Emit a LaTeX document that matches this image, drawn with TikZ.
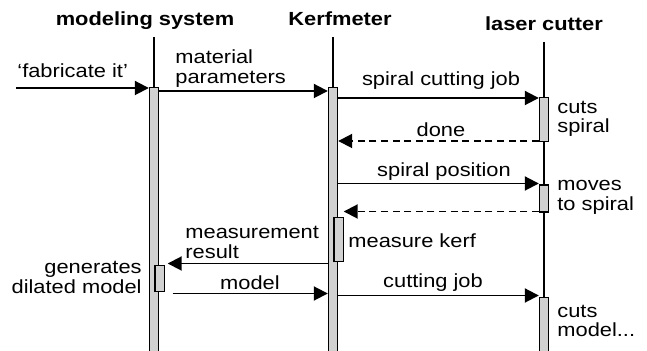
\documentclass[tikz,border=0pt]{standalone}
\usepackage{fontspec}
\setmainfont[FakeStretch=1.15]{Liberation Sans}
\usetikzlibrary{arrows.meta}

\begin{document}
\begin{tikzpicture}[x=0.5pt,y=-0.5pt,
  every node/.style={inner sep=0pt,font=\fontsize{9.5}{9.9}\selectfont},
  head/.style={font=\fontsize{9.5}{9.9}\selectfont\bfseries,anchor=base},
  life/.style={line width=0.8pt},
  bar/.style={draw,fill=black!18,line width=0.6pt,minimum width=4.6pt,anchor=north},
  msg/.style={-{Triangle[length=7pt,width=7pt]},line width=0.95pt},
  ret/.style={msg,dash pattern=on 3.5pt off 2.3pt},
  lbl/.style={anchor=base},
  note/.style={align=left,anchor=base west}]
\useasboundingbox (0,0) rectangle (647,351);
\clip (0,0) rectangle (647,351);

% lifelines
\node[head] (msh) at (145,26) {modeling system};
\node[head] (kfh) at (340,26) {Kerfmeter};
\node[head] (lch) at (544,30.5) {laser cutter};
\draw[life] (154,37) -- (154,360);
\draw[life] (333,37) -- (333,360);
\draw[life] (544,42) -- (544,360);

% activations
\node[bar,minimum height=140pt] (ms1) at (154,87) {};
\node[bar,minimum height=13pt] (ms2) at (159.5,265) {};
\node[bar,minimum height=140pt] (kf1) at (333,87) {};
\node[bar,minimum height=22pt] (kf2) at (338.5,217) {};
\node[bar,minimum height=22pt] (lc1) at (544,97) {};
\node[bar,minimum height=13.5pt] (lc2) at (544,184.5) {};
\node[bar,minimum height=40pt] (lc3) at (544,297) {};

% messages
\coordinate (user) at (16,88);
\draw[msg] (user) -- (ms1.west |- user);
\node[note] (fab) at (17,78) {‘fabricate it’};

\draw[msg] (ms1.east |- 0,91) -- (kf1.west |- 0,91);
\node[note] (matp) at (175,83.5) {material\\parameters};

\draw[msg] (kf1.east |- 0,98) -- (lc1.west |- 0,98);
\node[lbl] (scj) at (441,86) {spiral cutting job};
\draw[ret] (lc1.west |- 0,141) -- (kf1.east |- 0,141);
\node[lbl] (done) at (441,137) {done};
\node[note] (cuts) at (557,133) {cuts\\spiral};

\draw[msg] (kf1.east |- 0,183.5) -- (lc2.west |- 0,183.5);
\node[lbl] (spos) at (444,177) {spiral position};
\draw[ret] (lc2.west |- 0,211.5) -- (kf2.east |- 0,211.5);
\node[note] (moves) at (557,210.5) {moves\\to spiral};

\node[note] (mkerf) at (348,248) {measure kerf};
\draw[msg,shorten >=1.5pt] (kf1.west |- 0,263.5) -- (ms2.east |- 0,263.5);
\node[note] (mres) at (185,258.5) {measurement\\result};
\node[align=right,anchor=base east] (gen) at (142,293.5) {generates\\dilated model};

\draw[msg,shorten <=4pt] (ms2.east |- 0,293.5) -- (kf1.west |- 0,293.5);
\node[lbl] (mod) at (250,290) {model};
\draw[msg] (kf1.east |- 0,295.5) -- (lc3.west |- 0,295.5);
\node[lbl] (cj) at (433,288) {cutting job};
\node[note] (cutm) at (557,337) {cuts\\model...};
\end{tikzpicture}
\end{document}
